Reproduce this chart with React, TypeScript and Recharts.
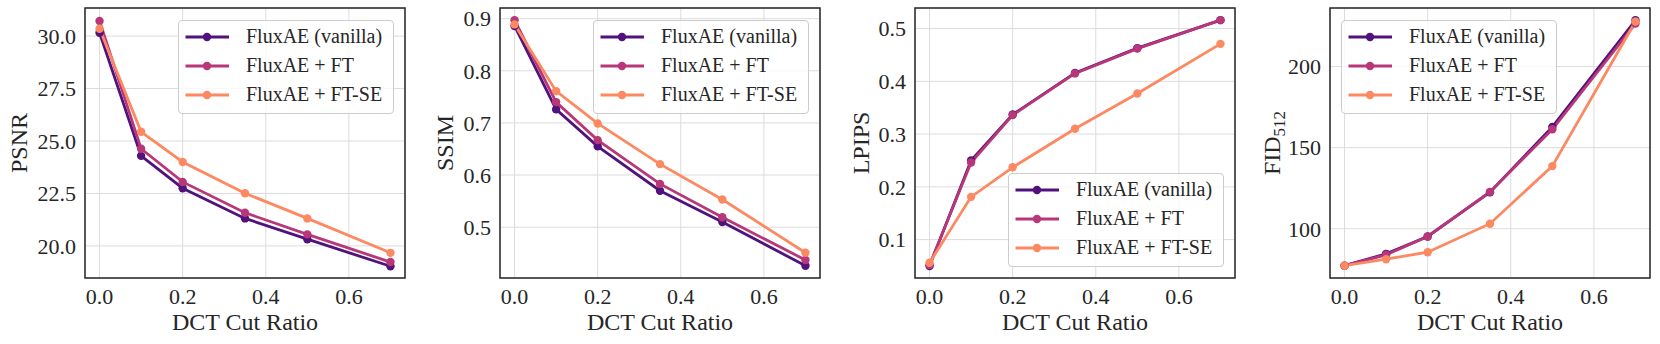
import { LineChart, Line, XAxis, YAxis, CartesianGrid, Legend, ReferenceArea } from "recharts";

const cutRatios = [0, 0.1, 0.2, 0.35, 0.5, 0.7];
const seriesNames = ["FluxAE (vanilla)", "FluxAE + FT", "FluxAE + FT-SE"];
const seriesColors = ["#51127c", "#b73779", "#fc8961"];

const psnrVanilla = [30.16, 24.29, 22.75, 21.31, 20.32, 19.03];
const psnrFT = [30.72, 24.63, 23.05, 21.58, 20.55, 19.23];
const psnrFTSE = [30.35, 25.44, 24.0, 22.51, 21.31, 19.67];

const ssimVanilla = [0.886, 0.726, 0.655, 0.57, 0.51, 0.426];
const ssimFT = [0.897, 0.74, 0.667, 0.583, 0.519, 0.437];
const ssimFTSE = [0.889, 0.761, 0.699, 0.621, 0.553, 0.451];

const lpipsVanilla = [0.05, 0.25, 0.337, 0.416, 0.463, 0.516];
const lpipsFT = [0.052, 0.246, 0.336, 0.415, 0.462, 0.516];
const lpipsFTSE = [0.056, 0.181, 0.237, 0.31, 0.377, 0.471];

const fidVanilla = [77.2, 84.5, 95.2, 122.5, 162.8, 228.5];
const fidFT = [77.2, 83.9, 95.2, 122.7, 161.3, 226.5];
const fidFTSE = [77.2, 81.2, 85.5, 103.1, 138.6, 227.8];

const xTicks = [0, 0.2, 0.4, 0.6];
const psnrTicks = [20, 22.5, 25, 27.5, 30];
const ssimTicks = [0.5, 0.6, 0.7, 0.8, 0.9];
const lpipsTicks = [0.1, 0.2, 0.3, 0.4, 0.5];
const fidTicks = [100, 150, 200];

const FONT = "'Liberation Serif', 'Times New Roman', Times, 'Nimbus Roman', 'DejaVu Serif', 'Noto Serif', serif";
const INK = "#262626";
const X_DOMAIN: [number, number] = [-0.035, 0.735];

function buildRows(a: number[], b: number[], c: number[]) {
  return cutRatios.map((ratio, i) => ({ ratio, vanilla: a[i], ft: b[i], ftse: c[i] }));
}

function LegendBox({ payload }: any) {
  return (
    <div
      style={{
        boxSizing: "border-box",
        width: 216,
        height: 94,
        paddingTop: 1,
        background: "rgba(255,255,255,0.8)",
        border: "1px solid #cccccc",
        borderRadius: 4,
        fontFamily: FONT,
        fontSize: 20,
        color: INK,
      }}
    >
      {(payload ?? []).map((p: any) => (
        <div key={p.value} style={{ display: "flex", alignItems: "center", height: 29 }}>
          <svg width={60} height={14} style={{ flex: "none" }}>
            <line x1={6.5} x2={50} y1={7} y2={7} stroke={p.color} strokeWidth={2.8} />
            <circle cx={28} cy={7} r={4.2} fill={p.color} />
          </svg>
          <span style={{ marginLeft: 7, whiteSpace: "nowrap", lineHeight: "29px" }}>{p.value}</span>
        </div>
      ))}
    </div>
  );
}

interface PanelProps {
  rows: ReturnType<typeof buildRows>;
  yDomain: [number, number];
  yTicks: number[];
  yFormat: (v: number) => string;
  yLabel: string;
  ySub?: string;
  yLabelX: number;
  legendLeft: number;
  legendTop: number;
}

function Panel({ rows, yDomain, yTicks, yFormat, yLabel, ySub, yLabelX, legendLeft, legendTop }: PanelProps) {
  const keys = ["vanilla", "ft", "ftse"];
  return (
    <LineChart
      width={415}
      height={344}
      data={rows}
      margin={{ top: 8, right: 10, bottom: 0, left: 0 }}
      style={{ fontFamily: FONT }}
    >
      <CartesianGrid stroke="#dcdcdc" strokeWidth={1} />
      <XAxis
        type="number"
        dataKey="ratio"
        domain={X_DOMAIN}
        ticks={xTicks}
        tickFormatter={(v: number) => v.toFixed(1)}
        tick={{ fontSize: 22, fill: INK, style: { fontFamily: FONT } }}
        tickLine={false}
        axisLine={false}
        tickSize={0}
        tickMargin={10}
        height={66}
        label={{
          content: ({ viewBox }: any) => (
            <text
              x={viewBox.x + viewBox.width / 2}
              y={viewBox.y + 52}
              textAnchor="middle"
              fontSize={24}
              style={{ fontFamily: FONT }}
              fill={INK}
            >
              DCT Cut Ratio
            </text>
          ),
        }}
      />
      <YAxis
        type="number"
        domain={yDomain}
        ticks={yTicks}
        tickFormatter={yFormat}
        tick={{ fontSize: 22, fill: INK, style: { fontFamily: FONT } }}
        tickLine={false}
        axisLine={false}
        tickSize={0}
        tickMargin={9}
        width={85}
        allowDataOverflow
        label={{
          content: ({ viewBox }: any) => {
            const cx = viewBox.x + yLabelX;
            const cy = viewBox.y + viewBox.height / 2;
            return (
              <text
                x={cx}
                y={cy}
                transform={`rotate(-90, ${cx}, ${cy})`}
                textAnchor="middle"
                fontSize={24}
                style={{ fontFamily: FONT }}
                fill={INK}
              >
                {yLabel}
                {ySub && (
                  <tspan fontSize={17} dy={5}>
                    {ySub}
                  </tspan>
                )}
              </text>
            );
          },
        }}
      />
      <ReferenceArea
        x1={X_DOMAIN[0]}
        x2={X_DOMAIN[1]}
        y1={yDomain[0]}
        y2={yDomain[1]}
        fill="none"
        stroke={INK}
        strokeWidth={1.5}
        ifOverflow="visible"
      />
      {keys.map((k, i) => (
        <Line
          key={k}
          type="linear"
          dataKey={k}
          name={seriesNames[i]}
          stroke={seriesColors[i]}
          strokeWidth={2.8}
          dot={{ r: 4.2, fill: seriesColors[i], stroke: seriesColors[i], strokeWidth: 0 }}
          activeDot={false}
          isAnimationActive={false}
        />
      ))}
      <Legend
        layout="horizontal"
        verticalAlign="middle"
        align="center"
        content={LegendBox}
        wrapperStyle={{ left: legendLeft, top: legendTop, width: 216, height: 94 }}
      />
    </LineChart>
  );
}

export default function App() {
  const one = (v: number) => v.toFixed(1);
  return (
    <div
      style={{
        position: "absolute",
        left: 0,
        top: 0,
        width: 1660,
        height: 344,
        background: "#fff",
        fontFamily: FONT,
      }}
    >
      <div style={{ position: "absolute", left: 0, top: 0 }}>
        <Panel
          rows={buildRows(psnrVanilla, psnrFT, psnrFTSE)}
          yDomain={[18.47, 31.34]}
          yTicks={psnrTicks}
          yFormat={one}
          yLabel="PSNR"
          yLabelX={27}
          legendLeft={178}
          legendTop={20}
        />
      </div>
      <div style={{ position: "absolute", left: 415, top: 0 }}>
        <Panel
          rows={buildRows(ssimVanilla, ssimFT, ssimFTSE)}
          yDomain={[0.4025, 0.9205]}
          yTicks={ssimTicks}
          yFormat={one}
          yLabel="SSIM"
          yLabelX={38}
          legendLeft={178}
          legendTop={20}
        />
      </div>
      <div style={{ position: "absolute", left: 830, top: 0 }}>
        <Panel
          rows={buildRows(lpipsVanilla, lpipsFT, lpipsFTSE)}
          yDomain={[0.0272, 0.539]}
          yTicks={lpipsTicks}
          yFormat={one}
          yLabel="LPIPS"
          yLabelX={39}
          legendLeft={178}
          legendTop={173}
        />
      </div>
      <div style={{ position: "absolute", left: 1245, top: 0 }}>
        <Panel
          rows={buildRows(fidVanilla, fidFT, fidFTSE)}
          yDomain={[69.6, 236.1]}
          yTicks={fidTicks}
          yFormat={(v: number) => String(v)}
          yLabel="FID"
          ySub="512"
          yLabelX={35}
          legendLeft={96}
          legendTop={20}
        />
      </div>
    </div>
  );
}
